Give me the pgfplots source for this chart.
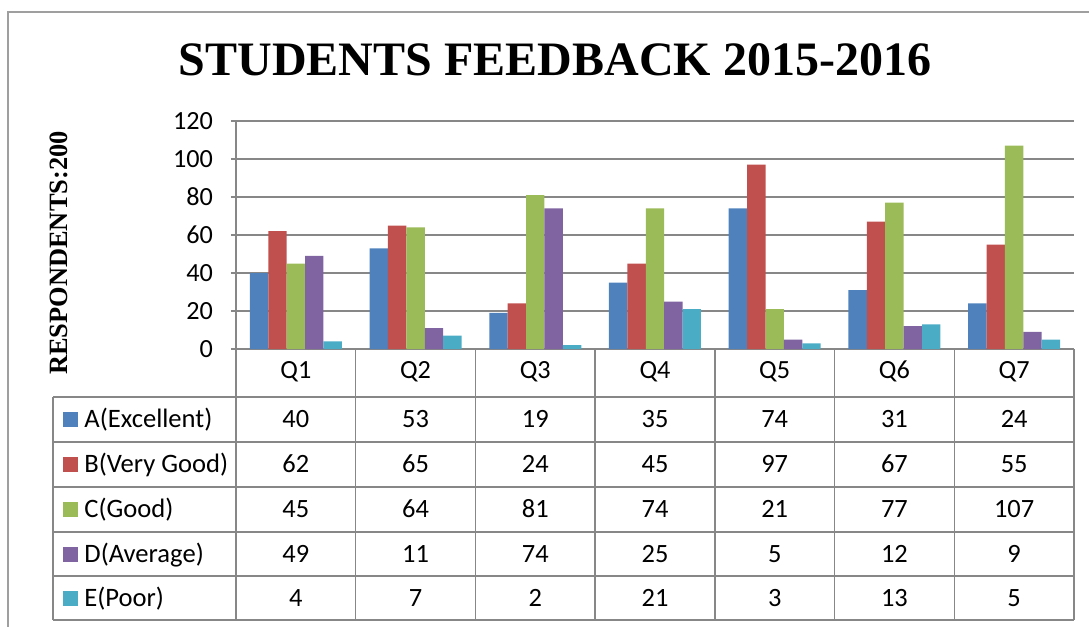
\documentclass[border=0pt]{standalone}
\usepackage{pgfplots}
\pgfplotsset{compat=1.18}
\usepackage{fontspec}
\setmainfont{Carlito}
\newfontfamily\tnr{Liberation Serif}
\definecolor{cA}{HTML}{4F81BD}
\definecolor{cB}{HTML}{C0504D}
\definecolor{cC}{HTML}{9BBB59}
\definecolor{cD}{HTML}{8064A2}
\definecolor{cE}{HTML}{4BACC6}
\definecolor{gridc}{HTML}{878787}
\begin{document}
\begin{tikzpicture}[x=0.5pt,y=-0.5pt]
\useasboundingbox (0,0) rectangle (1089,627);
\draw[gridc!80, line width=0.7pt] (8,627) -- (8,12) -- (1089,12);
\node at (555,60) {\tnr\bfseries\fontsize{24}{28}\selectfont STUDENTS FEEDBACK 2015-2016};
\node[rotate=90] at (59,253) {\tnr\bfseries\fontsize{13.2}{15}\selectfont RESPONDENTS:200};
\coordinate (AO) at (236,349);
\begin{axis}[at={(AO)}, anchor=south west, width=419pt, height=114pt, scale only axis,
  xmin=0.5, xmax=7.5, ymin=0, ymax=120, ytick={0,20,...,120},
  xtick={1,...,7}, xticklabels={Q1,Q2,Q3,Q4,Q5,Q6,Q7},
  axis x line*=bottom, axis y line*=left,
  axis line style={draw=gridc, line width=0.7pt, -},
  ymajorgrids, grid style={draw=gridc, line width=0.7pt},
  ytick style={draw=gridc, line width=0.7pt}, major tick length=2.5pt, tick align=outside,
  xtick style={draw=none},
  ybar=0pt, bar width=9.2pt,
  ticklabel style={font=\fontsize{13.1}{15}\selectfont, text=black},
  /pgf/number format/assume math mode=true,
  yticklabel style={xshift=-5.5pt},
  xticklabel style={anchor=base, yshift=-12pt},
  clip=false]
\addplot[fill=cA, draw=none] coordinates {(1,40) (2,53) (3,19) (4,35) (5,74) (6,31) (7,24)};
\addplot[fill=cB, draw=none] coordinates {(1,62) (2,65) (3,24) (4,45) (5,97) (6,67) (7,55)};
\addplot[fill=cC, draw=none] coordinates {(1,45) (2,64) (3,81) (4,74) (5,21) (6,77) (7,107)};
\addplot[fill=cD, draw=none] coordinates {(1,49) (2,11) (3,74) (4,25) (5,5) (6,12) (7,9)};
\addplot[fill=cE, draw=none] coordinates {(1,4) (2,7) (3,2) (4,21) (5,3) (6,13) (7,5)};
\end{axis}
% table grid
\foreach \k in {0,...,7} {
  \draw[gridc, line width=0.7pt] ({236+119.714*\k},349) -- ({236+119.714*\k},620);
}
\foreach \yy in {397,442,487,532,576,620} {
  \draw[gridc, line width=0.7pt] (53,\yy) -- (1074,\yy);
}
\draw[gridc, line width=0.7pt] (53,397) -- (53,620);
% legend column
\foreach \c/\t/\yc in {cA/A(Excellent)/419.5, cB/B(Very Good)/464.5, cC/C(Good)/509.5, cD/D(Average)/554, cE/E(Poor)/598} {
  \fill[\c] (63,\yc-7.5) rectangle (78,\yc+7.5);
  \node[anchor=base west, inner sep=0pt, font=\fontsize{13.3}{15}\selectfont] at (84,\yc+8) {\t};
}
% values
\foreach \yc/\vals in {419.5/{40,53,19,35,74,31,24}, 464.5/{62,65,24,45,97,67,55}, 509.5/{45,64,81,74,21,77,107}, 554/{49,11,74,25,5,12,9}, 598/{4,7,2,21,3,13,5}} {
  \foreach \v [count=\i] in \vals {
    \node[anchor=base, inner sep=0pt, font=\fontsize{13.2}{15}\selectfont] at ({236+119.714*(\i-0.5)},\yc+8) {\v};
  }
}
\end{tikzpicture}
\end{document}
